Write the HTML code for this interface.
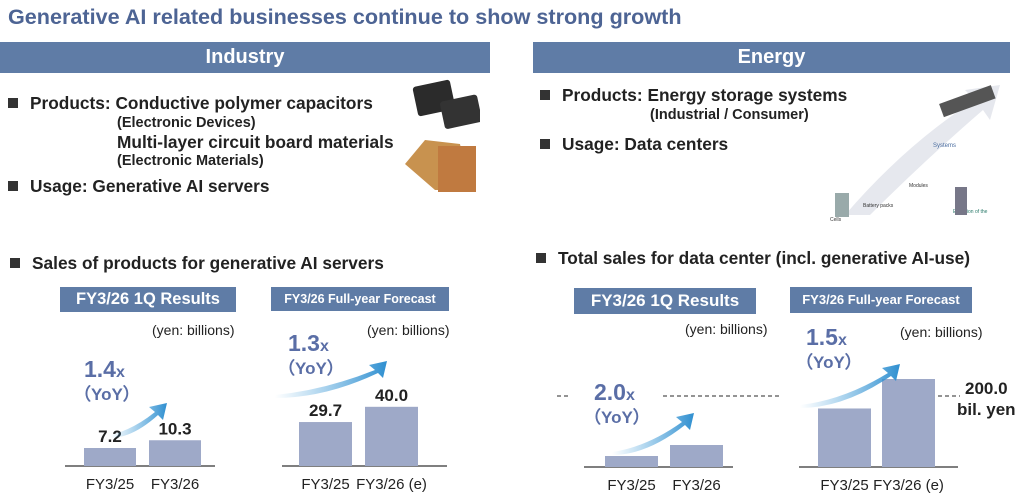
<!DOCTYPE html>
<html><head><meta charset="utf-8"><style>
body{margin:0;width:1024px;height:501px;background:#fff;font-family:"Liberation Sans",sans-serif;position:relative;overflow:hidden;color:#222}
.a{position:absolute;white-space:nowrap}
.b{font-weight:bold}
.banner{position:absolute;background:#5f7ca6;color:#fff;font-weight:bold;font-size:20px;text-align:center;line-height:31px}
.box{position:absolute;background:#5f7ca6;color:#fff;font-weight:bold;text-align:center}
.sq{display:inline-block;width:10px;height:10px;background:#333;margin-right:12px;vertical-align:1px}
</style></head><body>
<div class="a b" style="left:8px;top:4px;font-size:21.6px;color:#4d6494">Generative AI related businesses continue to show strong growth</div>
<div class="banner" style="left:0;top:42px;width:490px;height:31px">Industry</div>
<div class="banner" style="left:533px;top:42px;width:477px;height:31px">Energy</div>

<div class="a b" style="left:8px;top:93px;font-size:17.3px"><span class="sq"></span>Products: Conductive polymer capacitors</div>
<div class="a b" style="left:117px;top:115px;font-size:14.5px">(Electronic Devices)</div>
<div class="a b" style="left:117px;top:132px;font-size:17.3px">Multi-layer circuit board materials</div>
<div class="a b" style="left:117px;top:153px;font-size:14.5px">(Electronic Materials)</div>
<div class="a b" style="left:8px;top:176px;font-size:17.3px"><span class="sq"></span>Usage: Generative AI servers</div>
<svg class="a" style="left:400px;top:78px" width="80" height="120">
<rect x="15" y="5" width="38" height="30" rx="3" fill="#2b2b2b" transform="rotate(-12 34 20)"/>
<rect x="42" y="20" width="38" height="28" rx="3" fill="#333" transform="rotate(-12 60 34)"/>
<polygon points="5,86 25,62 60,66 70,112 35,112" fill="#c8924f"/>
<rect x="38" y="68" width="38" height="46" fill="#c07a40"/>
</svg>

<div class="a b" style="left:540px;top:85px;font-size:17.3px"><span class="sq"></span>Products: Energy storage systems</div>
<div class="a b" style="left:650px;top:107px;font-size:14.5px">(Industrial / Consumer)</div>
<div class="a b" style="left:540px;top:134px;font-size:17.3px"><span class="sq"></span>Usage: Data centers</div>
<svg class="a" style="left:825px;top:75px" width="190" height="150">
<path d="M20 140 Q80 70 150 25 L140 15 L175 10 L165 45 L158 35 Q100 85 45 140Z" fill="#e6e8ee"/>
<rect x="115" y="20" width="55" height="14" fill="#555" transform="rotate(-20 140 27)"/>
<text x="108" y="72" font-size="6" fill="#4a6da0">Systems</text>
<text x="84" y="112" font-size="5" fill="#333">Modules</text>
<text x="38" y="132" font-size="5" fill="#333">Battery packs</text>
<text x="5" y="146" font-size="5" fill="#333">Cells</text>
<text x="128" y="138" font-size="5" fill="#2a7a6a">Evolution of the</text>
<rect x="10" y="118" width="14" height="24" fill="#9aa"/>
<rect x="130" y="112" width="12" height="28" fill="#778"/>
</svg>

<div class="a b" style="left:10px;top:253px;font-size:17.3px"><span class="sq"></span>Sales of products for generative AI servers</div>
<div class="a b" style="left:536px;top:248px;font-size:17.3px"><span class="sq"></span>Total sales for data center (incl. generative AI-use)</div>

<div class="box" style="left:60px;top:287px;width:176px;height:25px;line-height:25px;font-size:16.5px">FY3/26 1Q Results</div>
<div class="box" style="left:271px;top:287px;width:178px;height:24px;line-height:24px;font-size:12.5px">FY3/26 Full-year Forecast</div>
<div class="box" style="left:574px;top:288px;width:182px;height:26px;line-height:26px;font-size:17px">FY3/26 1Q Results</div>
<div class="box" style="left:790px;top:287px;width:182px;height:26px;line-height:26px;font-size:13px">FY3/26 Full-year Forecast</div>

<svg id="ch" class="a" style="left:0;top:0" width="1024" height="501">
<defs><linearGradient id="ag" x1="0" y1="0" x2="1" y2="0"><stop offset="0" stop-color="#4aa3dc" stop-opacity="0"/><stop offset="1" stop-color="#2f8fd0"/></linearGradient></defs>
</svg>
<script>
const categoriesA=["FY3/25","FY3/26"];
const categoriesB=["FY3/25","FY3/26 (e)"];
const indQ1Values=[7.2,10.3];
const indFyValues=[29.7,40.0];
const enQ1Values=[25,50];
const enFyValues=[133,200];
const yoyLabels=["1.4x","1.3x","2.0x","1.5x"];
const svg=document.getElementById('ch');
const NS="http://www.w3.org/2000/svg";
function mk(t,a){const e=document.createElementNS(NS,t);for(const k in a)e.setAttribute(k,a[k]);svg.appendChild(e);return e;}
function chart(cfg){
  const y=v=>cfg.base-v*cfg.scale;
  const axis=mk('line',{x1:cfg.x0,x2:cfg.x1,y1:cfg.base,y2:cfg.base,stroke:'#555','stroke-width':1.5});
  
  
  cfg.vals.forEach((v,i)=>{
    const bx=cfg.bx[i];
    const r=mk('rect',{x:bx,y:y(v),width:cfg.bw,height:cfg.base-y(v),fill:'#9ea9c8'});
    
    
    if(cfg.showVal){
      const t=mk('text',{x:bx+cfg.bw/2,y:y(v)-6,'text-anchor':'middle','font-size':17,'font-weight':'bold',fill:'#222','font-family':'Liberation Sans'});
      t.textContent=v.toFixed(1);
      
      
    }
    const c=mk('text',{x:bx+cfg.bw/2,y:cfg.base+23,'text-anchor':'middle','font-size':15,fill:'#222','font-family':'Liberation Sans'});
    c.textContent=cfg.cats[i];
    
    
  });
  const ax=cfg.arrow;
  const p=mk('path',{d:`M${ax[0]} ${ax[1]} Q${(ax[0]+ax[2])/2} ${ax[1]-5} ${ax[2]} ${ax[3]} l-6 -5 l18 -4 l-4 17 l-5 -5 Q${(ax[0]+ax[2])/2} ${ax[1]+3} ${ax[0]} ${ax[1]+3}Z`,fill:'url(#ag)'});
  
  
  const t1=mk('text',{x:cfg.yoy[0],y:cfg.yoy[1],'font-size':23,'font-weight':'bold',fill:'#5a6ea6','font-family':'Liberation Sans'});
  t1.textContent=cfg.yoyText.replace('x','');
  const s=document.createElementNS(NS,'tspan');s.setAttribute('font-size',16);s.textContent='x';t1.appendChild(s);
  
  
  const t2=mk('text',{x:cfg.yoy[0]-10,y:cfg.yoy[1]+23,'font-size':17,'font-weight':'bold',fill:'#5a6ea6','font-family':'Liberation Sans'});
  t2.textContent='（YoY）';
  
  
  const u=mk('text',{x:cfg.unit[0],y:cfg.unit[1],'font-size':14,fill:'#222','font-family':'Liberation Sans'});
  u.textContent='(yen: billions)';
  
  
}
chart({id:'ind-q1',vals:indQ1Values,cats:categoriesA,base:466,scale:2.5,x0:65,x1:215,bx:[84,149],bw:52,showVal:true,arrow:[110,435,155,412],yoy:[84,377],yoyText:yoyLabels[0],unit:[152,335]});
chart({id:'ind-fy',vals:indFyValues,cats:categoriesB,base:466,scale:1.48,x0:282,x1:447,bx:[299,365],bw:53,showVal:true,arrow:[275,395,375,370],yoy:[288,351],yoyText:yoyLabels[1],unit:[367,335]});
chart({id:'en-q1',vals:enQ1Values,cats:categoriesA,base:467,scale:0.44,x0:584,x1:733,bx:[605,670],bw:53,showVal:false,arrow:[612,452,682,422],yoy:[594,400],yoyText:yoyLabels[2],unit:[685,334]});
chart({id:'en-fy',vals:enFyValues,cats:categoriesB,base:467,scale:0.44,x0:799,x1:958,bx:[818,882],bw:53,showVal:false,arrow:[800,405,888,373],yoy:[806,345],yoyText:yoyLabels[3],unit:[900,337]});
const d1=mk('path',{d:'M557 396 H570 M663 396 H780 M938 396 H960',stroke:'#555','stroke-dasharray':'4 3','stroke-width':1.2});


const tt=mk('text',{x:965,y:394,'font-size':17,'font-weight':'bold',fill:'#222','font-family':'Liberation Sans'});
tt.textContent='200.0';


const tu=mk('text',{x:957,y:415,'font-size':17,'font-weight':'bold',fill:'#222','font-family':'Liberation Sans'});
tu.textContent='bil. yen';


</script>
</body></html>
